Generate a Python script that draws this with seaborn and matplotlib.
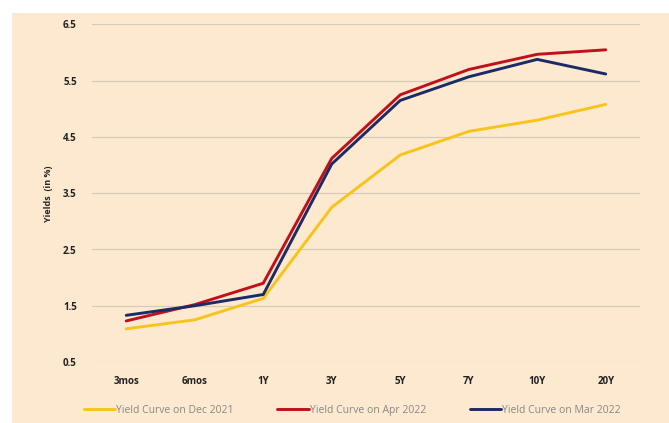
import pandas as pd
import matplotlib
matplotlib.use('Agg')
import matplotlib.pyplot as plt
import seaborn as sns
from matplotlib.patches import Rectangle

# Tenors and yields
tenors = ['3mos', '6mos', '1Y', '3Y', '5Y', '7Y', '10Y', '20Y']
dec_2021 = [1.09, 1.25, 1.63, 3.25, 4.18, 4.60, 4.80, 5.08]
apr_2022 = [1.23, 1.52, 1.90, 4.12, 5.25, 5.70, 5.97, 6.05]
mar_2022 = [1.33, 1.50, 1.70, 4.02, 5.15, 5.57, 5.88, 5.62]
series_names = ['Yield Curve on Dec 2021', 'Yield Curve on Apr 2022', 'Yield Curve on Mar 2022']
colors = ['#F7C41C', '#C0101A', '#1C2A66']

df = pd.DataFrame({'tenor': tenors, series_names[0]: dec_2021,
                   series_names[1]: apr_2022, series_names[2]: mar_2022})
long_df = df.melt(id_vars='tenor', var_name='series', value_name='yield')

sns.set_style('white')
plt.rcParams['font.family'] = ['Open Sans', 'DejaVu Sans']

beige = '#FCE9CF'
fig = plt.figure(figsize=(6.69, 4.23), dpi=100)
fig.patch.set_facecolor('white')
fig.patches.append(Rectangle((12 / 669, 0), 1, 1 - 13 / 423, transform=fig.transFigure,
                             facecolor=beige, edgecolor='none', zorder=-10))

ax = fig.add_axes([92 / 669, 1 - 362 / 423, (640 - 92) / 669, (362 - 24.5) / 423])
ax.set_facecolor('none')

sns.lineplot(data=long_df, x='tenor', y='yield', hue='series', hue_order=series_names,
             palette=colors, linewidth=2.1, sort=False, ax=ax)

ax.set_xlim(-0.5, len(tenors) - 0.5)
ax.set_ylim(0.5, 6.5)
ax.set_yticks([0.5, 1.5, 2.5, 3.5, 4.5, 5.5, 6.5])
ax.set_yticklabels(['0.5', '1.5', '2.5', '3.5', '4.5', '5.5', '6.5'])
ax.yaxis.grid(True, color='#D6CBB8', linewidth=0.9)
ax.xaxis.grid(False)
for s in ax.spines.values():
    s.set_visible(False)
ax.tick_params(axis='both', length=0, labelsize=7, colors='#222222')
ax.tick_params(axis='y', pad=11)
ax.tick_params(axis='x', pad=10)
for lab in ax.get_xticklabels() + ax.get_yticklabels():
    lab.set_fontweight('bold')

ax.set_xlabel('')
ax.set_ylabel('Yields  (in %)', fontsize=6.5, fontweight='bold', labelpad=7)

ax.legend(loc='upper center', bbox_to_anchor=(0.475, -0.1), ncol=3, frameon=False,
          fontsize=7.5, handlelength=3.0, handletextpad=0.1, columnspacing=4.2,
          labelcolor='#888888')

plt.savefig('out.png', dpi=100, facecolor='white')
